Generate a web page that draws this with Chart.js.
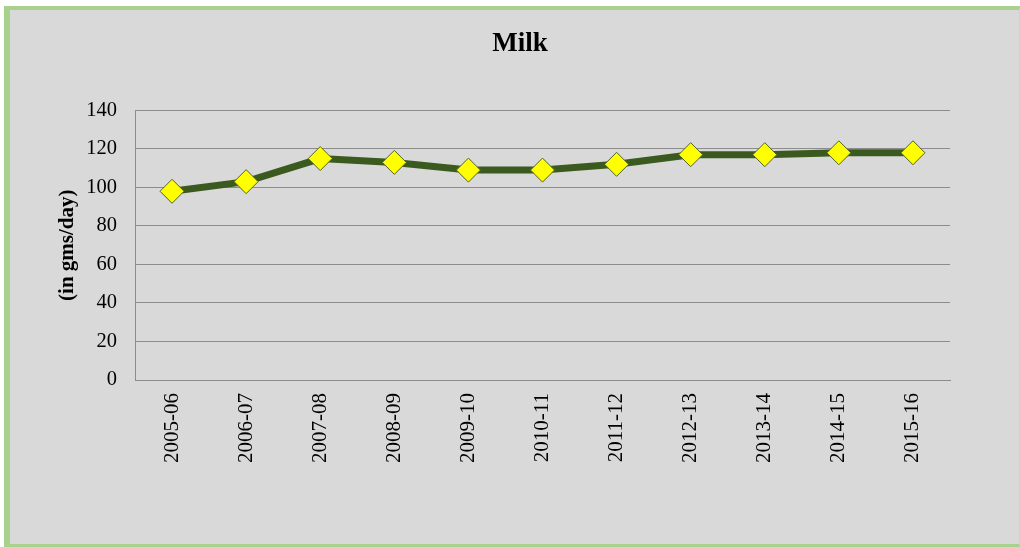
<!DOCTYPE html>
<html>
<head>
<meta charset="utf-8">
<title>Milk</title>
<script src="https://cdn.jsdelivr.net/npm/chart.js@4"></script>
<style>
  html, body {
    margin: 0;
    padding: 0;
    background: #ffffff;
  }
  #frame {
    position: absolute;
    left: 4px;
    top: 6px;
    width: 1009px;
    height: 534px;
    background: #d9d9d9;
    border-top: 4px solid #a9d18e;
    border-left: 6px solid #a9d18e;
    border-bottom: 3px solid #a9d18e;
    border-right: 1px solid #c5dcb6;
  }
  #wrap {
    position: absolute;
    left: 0;
    top: 0;
    width: 1020px;
    height: 547px;
  }
</style>
</head>
<body>
<div id="frame"></div>
<div id="wrap"><canvas id="milkChart"></canvas></div>
<script>
// Milk availability per year
const years = ["2005-06", "2006-07", "2007-08", "2008-09", "2009-10", "2010-11",
  "2011-12", "2012-13", "2013-14", "2014-15", "2015-16"];
const milkValues = [98, 103, 115, 113, 109, 109, 112, 117, 117, 118, 118];
const yTicks = [0, 20, 40, 60, 80, 100, 120, 140];

const serif = "'Liberation Serif', 'Times New Roman', serif";

const ctx = document.getElementById("milkChart").getContext("2d");
const milkChart = new Chart(ctx, {
  type: "line",
  data: {
    labels: years,
    datasets: [
      {
        label: "Milk",
        data: milkValues,
        borderColor: "#3b5a1f",
        borderWidth: 7,
        tension: 0,
        pointStyle: "rectRot",
        pointRadius: 12,
        pointHoverRadius: 12,
        pointBackgroundColor: "#ffff00",
        pointBorderColor: "#4f6228",
        pointBorderWidth: 1,
      },
    ],
  },
  options: {
    responsive: true,
    maintainAspectRatio: false,
    animation: false,
    layout: { padding: { left: 20, right: 0, top: 0, bottom: 47 } },
    plugins: {
      legend: { display: false },
      tooltip: { enabled: false },
      title: {
        display: true,
        text: "Milk",
        color: "#000",
        font: { family: serif, size: 27, weight: "bold" },
        padding: { top: 28, bottom: 50 },
      },
    },
    scales: {
      x: {
        offset: true,
        grid: { display: false, drawTicks: false, offset: true },
        border: { display: true, color: "#8c8c8c", width: 1 },
        ticks: {
          color: "#000",
          font: { family: serif, size: 21 },
          minRotation: 90,
          maxRotation: 90,
          padding: 13,
        },
        afterFit: (scale) => {
          scale.height = 120;
        },
      },
      y: {
        min: 0,
        max: 140,
        afterBuildTicks: (scale) => {
          scale.ticks = yTicks.map((v) => ({ value: v }));
        },
        grid: { color: "#8c8c8c", lineWidth: 1, drawTicks: false },
        border: { display: true, color: "#8c8c8c", width: 1 },
        ticks: {
          color: "#000",
          font: { family: serif, size: 20.5 },
          padding: 18,
        },
        title: {
          display: true,
          text: "(in gms/day)",
          color: "#000",
          font: { family: serif, size: 21, weight: "bold" },
          padding: { top: 35, bottom: 0 },
        },
        afterFit: (scale) => {
          scale.width = 115;
        },
      },
      // empty right-hand strip that keeps the plot clear of the frame edge
      yRight: {
        position: "right",
        grid: { display: false, drawTicks: false },
        border: { display: false },
        ticks: { display: false },
        afterFit: (scale) => {
          scale.width = 70;
        },
      },
    },
  },
});
</script>
</body>
</html>
